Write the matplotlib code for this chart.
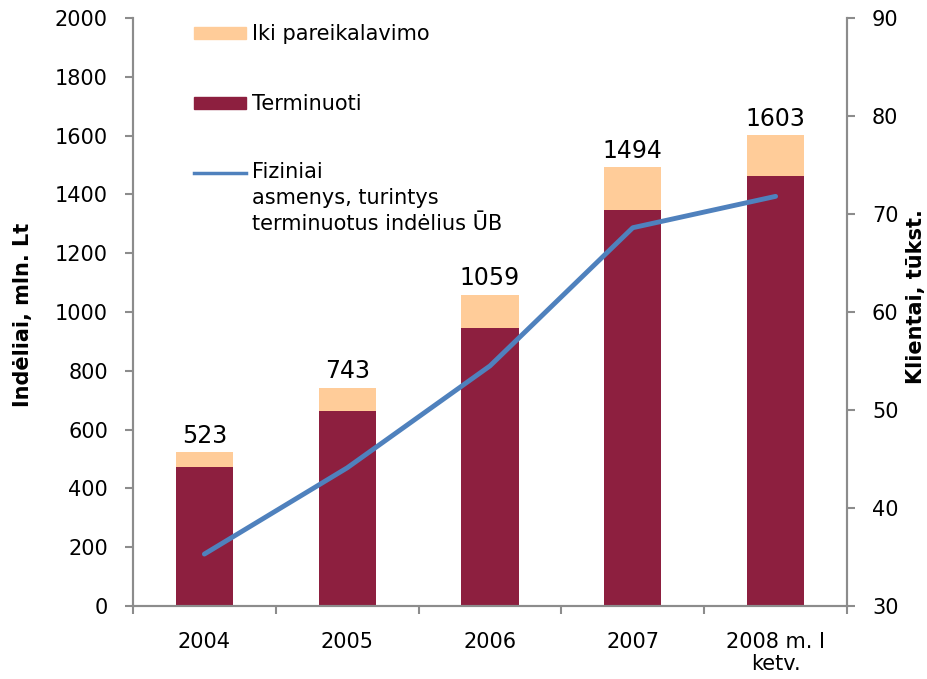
import matplotlib

matplotlib.use("Agg")
import matplotlib.pyplot as plt
from matplotlib.lines import Line2D
from matplotlib.patches import Rectangle

# values
years = ["2004", "2005", "2006", "2007", "2008 m. I\nketv."]
term_deposits = [473, 664, 946, 1346, 1463]      # Terminuoti, mln. Lt
demand_deposits = [50, 79, 113, 148, 140]        # Iki pareikalavimo, mln. Lt
total_labels = [523, 743, 1059, 1494, 1603]
clients = [35.3, 44.1, 54.5, 68.6, 71.8]         # tūkst.

DARK = "#8D1F3F"
LIGHT = "#FFCC99"
BLUE = "#4F81BD"
GREY = "#8C8C8C"

plt.rcParams["font.family"] = ["DejaVu Sans"]

fig = plt.figure(figsize=(9.28, 6.79), dpi=100)
ax = fig.add_axes([0.1433, 0.1075, 0.7694, 0.866])
ax2 = ax.twinx()

x = list(range(len(years)))
ax.bar(x, term_deposits, width=0.4, color=DARK, zorder=2)
ax.bar(x, demand_deposits, width=0.4, bottom=term_deposits, color=LIGHT, zorder=2)
for xi, top, lab in zip(x, [t + d for t, d in zip(term_deposits, demand_deposits)], total_labels):
    ax.annotate(str(lab), (xi, top), xytext=(0, 3), textcoords="offset points",
                ha="center", va="bottom", fontsize=17)

ax2.plot(x, clients, color=BLUE, linewidth=3.5, solid_capstyle="round", zorder=3)

ax.set_xlim(-0.5, 4.5)
ax.set_ylim(0, 2000)
ax.set_yticks(range(0, 2001, 200))
ax2.set_ylim(30, 90)
ax2.set_yticks(range(30, 91, 10))

# category boundaries as major ticks, labels on minor ticks
ax.set_xticks([i - 0.5 for i in range(len(years) + 1)])
ax.set_xticklabels([])
ax.set_xticks(x, minor=True)
ax.set_xticklabels(years, minor=True, fontsize=15, linespacing=1.08)
ax.tick_params(axis="x", which="minor", length=0, pad=19)
ax.tick_params(axis="x", which="major", length=6, width=1.5, color=GREY, direction="out")
ax.tick_params(axis="y", length=6, width=1.5, color=GREY, labelsize=15, pad=12)
ax2.tick_params(axis="y", length=6, width=1.5, color=GREY, labelsize=15, pad=12)

for a in (ax, ax2):
    a.spines["top"].set_visible(False)
    for s in ("left", "right", "bottom"):
        a.spines[s].set_color(GREY)
        a.spines[s].set_linewidth(1.5)

ax.set_ylabel("Indėliai, mln. Lt", fontsize=15, fontweight="bold")
ax.yaxis.set_label_coords(-0.140, 0.495)
ax2.set_ylabel("Klientai, tūkst.", fontsize=15, fontweight="bold")
ax2.yaxis.set_label_coords(1.083, 0.526)

# legend drawn by hand so the line sits on the first text row
def fx(px):
    return px / 928


def fy(py):
    return 1 - py / 679


fig.patches.append(Rectangle((fx(194), fy(39)), fx(52), 12 / 679, color=LIGHT,
                             transform=fig.transFigure))
fig.patches.append(Rectangle((fx(194), fy(109)), fx(52), 12 / 679, color=DARK,
                             transform=fig.transFigure))
fig.lines.append(Line2D([fx(194), fx(246)], [fy(173), fy(173)], color=BLUE,
                        linewidth=2.5, transform=fig.transFigure))
fig.text(fx(252), fy(34), "Iki pareikalavimo", fontsize=15, va="center")
fig.text(fx(252), fy(104), "Terminuoti", fontsize=15, va="center")
fig.text(fx(252), fy(162), "Fiziniai\nasmenys, turintys\nterminuotus indėlius ŪB",
         fontsize=15, va="top", linespacing=1.36)

fig.savefig("out.png", dpi=100)
